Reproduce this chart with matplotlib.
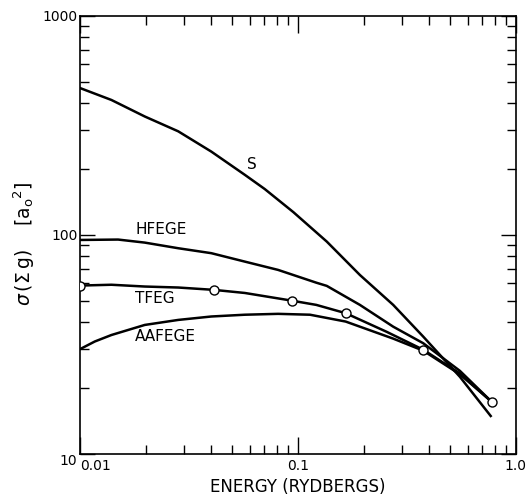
import numpy as np
import matplotlib
matplotlib.use("Agg")
import matplotlib.pyplot as plt
from matplotlib.ticker import LogLocator, NullFormatter

# curve data (energy in Rydbergs, sigma in a0^2)
s_e = [0.01, 0.01392, 0.01982, 0.0282, 0.040, 0.057, 0.0703, 0.0952, 0.1355,
       0.1923, 0.2734, 0.3757, 0.553, 0.766]
s_y = [468, 413, 347, 297, 240, 188, 162, 127, 93.2, 65.6, 47.9, 34.3, 22.5, 14.9]

hf_e = [0.01, 0.01494, 0.0198, 0.0282, 0.040, 0.057, 0.081, 0.1213, 0.1355,
        0.1923, 0.2734, 0.3757, 0.553, 0.774]
hf_y = [94.8, 95.2, 92.2, 86.9, 82.5, 75.5, 69.2, 60.5, 58.5, 47.9, 38.1, 32.0, 23.95, 17.3]

tf_e = [0.01, 0.01392, 0.0198, 0.0282, 0.0411, 0.057, 0.0935, 0.1213, 0.1655,
        0.255, 0.3757, 0.553, 0.774]
tf_y = [58.7, 59.2, 58.1, 57.5, 56.1, 54.3, 50.1, 47.9, 43.9, 36.1, 29.9, 23.3, 17.3]
tf_pts_e = [0.01, 0.0411, 0.0935, 0.1655, 0.3757, 0.774]
tf_pts_y = [58.7, 56.1, 50.1, 43.9, 29.9, 17.3]

aa_e = [0.01, 0.01168, 0.01392, 0.0198, 0.0282, 0.040, 0.057, 0.081, 0.1135,
        0.1655, 0.1923, 0.2734, 0.3757, 0.553, 0.774]
aa_y = [30.1, 32.6, 34.9, 38.8, 40.9, 42.4, 43.2, 43.6, 43.2, 40.2, 38.1, 33.6,
        29.6, 23.1, 17.3]

labels = ["S", "HFEGE", "TFEG", "AAFEGE"]
label_pos = [(0.0583, 209), (0.01787, 106), (0.01787, 51.5), (0.01787, 34.2)]

fig = plt.figure(figsize=(5.27, 4.95), dpi=100)
ax = fig.add_axes([0.152, 0.083, 0.827, 0.885])

lw = 1.8
ax.plot(s_e, s_y, color="black", linewidth=lw)
ax.plot(hf_e, hf_y, color="black", linewidth=lw)
ax.plot(tf_e, tf_y, color="black", linewidth=lw)
ax.plot(aa_e, aa_y, color="black", linewidth=lw)
ax.plot(tf_pts_e, tf_pts_y, linestyle="none", marker="o", markersize=6.5,
        markerfacecolor="white", markeredgecolor="black", markeredgewidth=1.0, zorder=5)

for lab, (x, y) in zip(labels, label_pos):
    ax.text(x, y, lab, fontsize=11, ha="left", va="center")

ax.set_xscale("log")
ax.set_yscale("log")
ax.set_xlim(0.01, 1.0)
ax.set_ylim(10, 1000)

ax.set_xticks([0.01, 0.1, 1.0])
ax.set_xticklabels(["0.01", "0.1", "1.0"])
ax.set_yticks([10, 100, 1000])
ax.set_yticklabels(["10", "100", "1000"])
ax.xaxis.set_minor_locator(LogLocator(base=10, subs=np.arange(2, 10)))
ax.yaxis.set_minor_locator(LogLocator(base=10, subs=np.arange(2, 10)))
ax.xaxis.set_minor_formatter(NullFormatter())
ax.yaxis.set_minor_formatter(NullFormatter())

ax.tick_params(which="both", direction="in", top=True, right=True, width=1.0, labelsize=10)
ax.tick_params(axis="x", which="major", length=12, pad=4)
ax.tick_params(axis="y", which="major", length=11, pad=2)
ax.tick_params(which="minor", length=6.5)
for sp in ax.spines.values():
    sp.set_linewidth(1.2)

# the corner labels sit apart as in the original
ax.get_xticklabels()[0].set_horizontalalignment("left")
ax.get_yticklabels()[0].set_verticalalignment("top")

ax.set_xlabel("ENERGY (RYDBERGS)", fontsize=12, labelpad=3)
ax.set_ylabel(r"$\sigma\,(\Sigma\,\mathrm{g})$    [a$_\mathrm{o}$$^2$]", fontsize=13.5)
ax.yaxis.set_label_coords(-0.099, 0.479)

fig.savefig("out.png", dpi=100)
